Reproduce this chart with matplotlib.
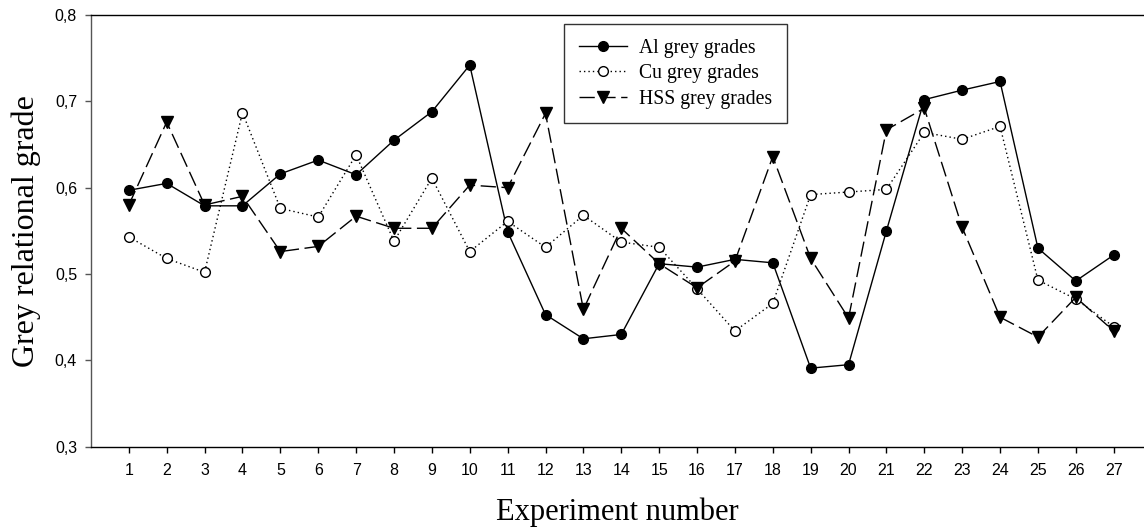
import numpy as np
import matplotlib
matplotlib.use("Agg")
import matplotlib.pyplot as plt

# values
experiments = list(range(1, 28))
al_grades = [0.597, 0.605, 0.579, 0.579, 0.616, 0.632, 0.615, 0.655, 0.688, 0.742,
             0.549, 0.453, 0.425, 0.430, 0.512, 0.508, 0.517, 0.513, 0.391, 0.395,
             0.550, 0.702, 0.713, 0.723, 0.530, 0.492, 0.522]
cu_grades = [0.543, 0.518, 0.502, 0.687, 0.576, 0.566, 0.638, 0.538, 0.611, 0.526,
             0.561, 0.531, 0.568, 0.537, 0.531, 0.483, 0.434, 0.466, 0.592, 0.595,
             0.598, 0.664, 0.656, 0.671, 0.493, 0.471, 0.439]
hss_grades = [0.580, 0.676, 0.580, 0.590, 0.526, 0.532, 0.567, 0.553, 0.553, 0.603,
              0.600, 0.686, 0.459, 0.553, 0.512, 0.484, 0.515, 0.636, 0.518, 0.449,
              0.667, 0.692, 0.554, 0.450, 0.427, 0.473, 0.434]
y_ticks = [0.3, 0.4, 0.5, 0.6, 0.7, 0.8]
y_tick_labels = ["0,3", "0,4", "0,5", "0,6", "0,7", "0,8"]

serif = "Liberation Serif"
sans = "Liberation Sans"

fig = plt.figure(figsize=(11.44, 5.32), dpi=100)
ax = fig.add_axes([0.0795, 0.1603, 0.9205, 0.8115])

ax.plot(experiments, al_grades, color="black", lw=1.0, ls="-",
        marker="o", ms=7, mfc="black", mec="black", label="Al grey grades")
ax.plot(experiments, cu_grades, color="black", lw=1.0, ls=(0, (1, 2.2)),
        marker="o", ms=7, mfc="white", mec="black", mew=1.0, label="Cu grey grades")
ax.plot(experiments, hss_grades, color="black", lw=1.0, ls=(0, (11, 4)),
        marker="v", ms=8, mfc="black", mec="black", label="HSS grey grades")

ax.set_xlim(0, 27.8)
ax.set_ylim(0.3, 0.8)
ax.set_xticks(experiments)
ax.set_xticklabels([str(e) for e in experiments], fontfamily=sans, fontsize=11.5)
ax.set_yticks(y_ticks)
ax.set_yticklabels(y_tick_labels, fontfamily=sans, fontsize=11.5)
ax.tick_params(axis="x", direction="out", length=4, width=1, pad=8)
ax.tick_params(axis="y", direction="out", length=4, width=1, pad=6, color="#555555")

ax.spines["right"].set_visible(False)
for s in ["left", "top", "bottom"]:
    ax.spines[s].set_linewidth(1.0)
ax.spines["left"].set_color("#555555")

ax.set_ylabel("Grey relational grade", fontfamily=serif, fontsize=23, labelpad=10)
ax.set_xlabel("Experiment number", fontfamily=serif, fontsize=22, labelpad=14)

leg = ax.legend(loc="upper left", bbox_to_anchor=(0.4496, 0.979), borderaxespad=0,
                prop={"family": serif, "size": 14.25}, frameon=True, fancybox=False,
                edgecolor="black", handlelength=2.4, handletextpad=0.6,
                labelspacing=0.32, borderpad=0.75)
leg.get_frame().set_linewidth(1.0)

fig.savefig("out.png", dpi=100)
plt.close(fig)
